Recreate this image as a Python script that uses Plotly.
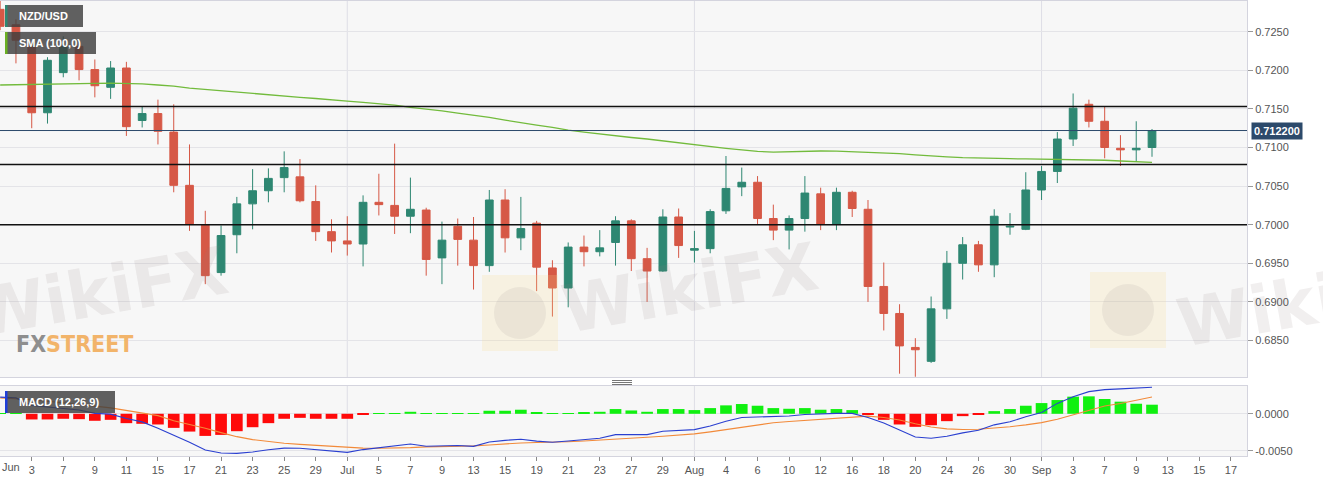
# NZD/USD daily candles with SMA(100) and MACD(12,26,9)

import pandas as pd
import plotly.graph_objects as go

# weekdays on the axis (last candle is Sep 10, axis runs to Sep 17)
dates = pd.bdate_range("2021-06-01", "2021-09-17")

opens = [0.7279, 0.7259, 0.7231, 0.7145, 0.7197, 0.7231, 0.7201, 0.7178, 0.7203, 0.7135,
         0.7144, 0.7120, 0.7051, 0.7000, 0.6938, 0.6987, 0.7027, 0.7044, 0.7061, 0.7062,
         0.7030, 0.6991, 0.6979, 0.6975, 0.7029, 0.7025, 0.7011, 0.7019, 0.6957, 0.6998,
         0.6980, 0.6947, 0.7032, 0.6983, 0.7002, 0.6944, 0.6918, 0.6971, 0.6965, 0.6977,
         0.7005, 0.6956, 0.6940, 0.7010, 0.6967, 0.6969, 0.7018, 0.7049, 0.7055, 0.7008,
         0.6993, 0.7008, 0.7040, 0.7001, 0.7042, 0.7020, 0.6920, 0.6885, 0.6841, 0.6823,
         0.6891, 0.6950, 0.6974, 0.6948, 0.6997, 0.6994, 0.7045, 0.7069, 0.7111, 0.7156,
         0.7134, 0.7099, 0.7097, 0.7100]
highs = [0.7290, 0.7266, 0.7236, 0.7217, 0.7244, 0.7234, 0.7214, 0.7212, 0.7211, 0.7153,
         0.7162, 0.7156, 0.7104, 0.7018, 0.6999, 0.7036, 0.7072, 0.7073, 0.7095, 0.7085,
         0.7051, 0.7007, 0.7011, 0.7038, 0.7066, 0.7105, 0.7061, 0.7022, 0.7004, 0.7008,
         0.7010, 0.7045, 0.7046, 0.7036, 0.7005, 0.6954, 0.6977, 0.6986, 0.6993, 0.7011,
         0.7007, 0.6970, 0.7020, 0.7021, 0.6992, 0.7020, 0.7089, 0.7074, 0.7063, 0.7026,
         0.7012, 0.7063, 0.7048, 0.7048, 0.7044, 0.7032, 0.6951, 0.6897, 0.6853, 0.6907,
         0.6966, 0.6984, 0.6979, 0.7020, 0.7015, 0.7068, 0.7076, 0.7120, 0.7170, 0.7162,
         0.7153, 0.7116, 0.7134, 0.7124]
lows = [0.7252, 0.7209, 0.7125, 0.7131, 0.7191, 0.7187, 0.7165, 0.7163, 0.7115, 0.7126,
        0.7104, 0.7042, 0.6992, 0.6923, 0.6934, 0.6963, 0.6994, 0.7029, 0.7042, 0.7029,
        0.6979, 0.6964, 0.6960, 0.6946, 0.7012, 0.6988, 0.6989, 0.6934, 0.6923, 0.6947,
        0.6916, 0.6939, 0.6964, 0.6967, 0.6914, 0.6881, 0.6893, 0.6946, 0.6959, 0.6947,
        0.6940, 0.6900, 0.6939, 0.6957, 0.6951, 0.6963, 0.7014, 0.7037, 0.7001, 0.6980,
        0.6968, 0.6991, 0.6993, 0.6993, 0.7010, 0.6900, 0.6863, 0.6807, 0.6803, 0.6821,
        0.6878, 0.6929, 0.6939, 0.6932, 0.6987, 0.6993, 0.7032, 0.7054, 0.7102, 0.7126,
        0.7086, 0.7076, 0.7082, 0.7088]
closes = [0.7257, 0.7239, 0.7145, 0.7213, 0.7231, 0.7201, 0.7180, 0.7203, 0.7127, 0.7144,
          0.7121, 0.7051, 0.7001, 0.6934, 0.6986, 0.7027, 0.7044, 0.7060, 0.7074, 0.7031,
          0.6991, 0.6979, 0.6975, 0.7029, 0.7026, 0.7011, 0.7020, 0.6955, 0.6980, 0.6981,
          0.6947, 0.7032, 0.6983, 0.6995, 0.6945, 0.6918, 0.6971, 0.6965, 0.6970, 0.7005,
          0.6956, 0.6940, 0.7010, 0.6973, 0.6969, 0.7017, 0.7047, 0.7055, 0.7008, 0.6993,
          0.7008, 0.7041, 0.7001, 0.7042, 0.7021, 0.6920, 0.6885, 0.6843, 0.6838, 0.6891,
          0.6950, 0.6974, 0.6948, 0.7011, 0.6998, 0.7045, 0.7069, 0.7111, 0.7151, 0.7134,
          0.7100, 0.7097, 0.7099, 0.7122]

sma100 = [0.71810, 0.71815, 0.71820, 0.71825, 0.71828, 0.71830, 0.71832, 0.71833, 0.71832, 0.71825,
          0.71810, 0.71795, 0.71770, 0.71752, 0.71735, 0.71715, 0.71697, 0.71680, 0.71662, 0.71650,
          0.71635, 0.71615, 0.71600, 0.71585, 0.71568, 0.71550, 0.71521, 0.71500, 0.71475, 0.71445,
          0.71420, 0.71390, 0.71355, 0.71320, 0.71290, 0.71260, 0.71225, 0.71200, 0.71175, 0.71150,
          0.71130, 0.71110, 0.71085, 0.71060, 0.71035, 0.71010, 0.70990, 0.70970, 0.70950, 0.70940,
          0.70945, 0.70952, 0.70955, 0.70952, 0.70945, 0.70935, 0.70930, 0.70920, 0.70905, 0.70890,
          0.70880, 0.70870, 0.70862, 0.70858, 0.70855, 0.70852, 0.70850, 0.70847, 0.70845, 0.70840,
          0.70835, 0.70825, 0.70815, 0.70808]

macd = [0.00225, 0.00215, 0.00113, 0.00093, 0.00082, 0.00052, 0.00005, -0.00005, -0.00065, -0.00110,
        -0.00195, -0.00285, -0.00385, -0.00490, -0.00532, -0.00536, -0.00518, -0.00488, -0.00465, -0.00468,
        -0.00488, -0.00508, -0.00523, -0.00485, -0.00460, -0.00430, -0.00410, -0.00440, -0.00436, -0.00430,
        -0.00441, -0.00382, -0.00360, -0.00345, -0.00370, -0.00386, -0.00368, -0.00350, -0.00332, -0.00282,
        -0.00282, -0.00282, -0.00236, -0.00225, -0.00215, -0.00165, -0.00100, -0.00050, -0.00041, -0.00041,
        -0.00030, -0.00009, 0.00003, 0.00005, 0.00005, -0.00050, -0.00125, -0.00223, -0.00314, -0.00332,
        -0.00305, -0.00259, -0.00223, -0.00150, -0.00109, -0.00041, 0.00018, 0.00141, 0.00232, 0.00300,
        0.00327, 0.00338, 0.00350, 0.00359]
signal = [0.00215, 0.00205, 0.00190, 0.00170, 0.00150, 0.00128, 0.00103, 0.00080, 0.00045, 0.00012,
          -0.00025, -0.00095, -0.00140, -0.00195, -0.00255, -0.00310, -0.00350, -0.00380, -0.00400, -0.00415,
          -0.00430, -0.00445, -0.00455, -0.00466, -0.00468, -0.00465, -0.00458, -0.00448, -0.00445, -0.00440,
          -0.00435, -0.00422, -0.00405, -0.00395, -0.00390, -0.00386, -0.00378, -0.00368, -0.00358, -0.00345,
          -0.00330, -0.00318, -0.00305, -0.00289, -0.00272, -0.00245, -0.00212, -0.00178, -0.00145, -0.00122,
          -0.00105, -0.00090, -0.00075, -0.00055, -0.00038, -0.00032, -0.00050, -0.00085, -0.00135, -0.00180,
          -0.00205, -0.00214, -0.00210, -0.00195, -0.00175, -0.00150, -0.00120, -0.00075, -0.00015, 0.00055,
          0.00105, 0.00140, 0.00185, 0.00227]
hist = [0.00010, 0.00010, -0.00077, -0.00077, -0.00068, -0.00073, -0.00095, -0.00082, -0.00127, -0.00136,
        -0.00145, -0.00191, -0.00241, -0.00300, -0.00286, -0.00236, -0.00182, -0.00127, -0.00068, -0.00055,
        -0.00068, -0.00068, -0.00068, -0.00010, 0.00006, 0.00006, 0.00027, 0.00007, 0.00007, 0.00008,
        0.00003, 0.00041, 0.00041, 0.00055, 0.00023, 0.00004, 0.00010, 0.00018, 0.00027, 0.00064,
        0.00045, 0.00027, 0.00064, 0.00064, 0.00050, 0.00077, 0.00114, 0.00132, 0.00109, 0.00077,
        0.00068, 0.00077, 0.00055, 0.00064, 0.00050, -0.00007, -0.00082, -0.00145, -0.00177, -0.00155,
        -0.00100, -0.00032, -0.00014, 0.00036, 0.00064, 0.00109, 0.00145, 0.00186, 0.00232, 0.00236,
        0.00200, 0.00164, 0.00136, 0.00123]

levels = [0.7153, 0.7078, 0.7000]
price_ticks = [0.6850, 0.6900, 0.6950, 0.7000, 0.7050, 0.7100, 0.7150, 0.7200, 0.7250]
macd_ticks = [0.0, -0.005]
macd_tick_text = ["0.0000", "-0.0050"]

x = list(range(len(opens)))
last_close = closes[-1]

# axis labels every second weekday, month name on the first day of a month
month_starts = [i for i in range(len(dates)) if i == 0 or dates[i].month != dates[i - 1].month]
tick_idx = list(range(2, len(dates), 2))
tick_txt = [dates[i].strftime("%b") if i in month_starts else str(dates[i].day) for i in tick_idx]

green = "#2e8772"
red = "#d65846"
grid = "#e4e4e8"
frame = "#d4d4de"

# pixel helpers for the decorations (plot area is 1247 x 455 px, top at y=1)
def px(v):
    return v / 1247.0


def py(v):
    return (456.0 - v) / 455.0


fig = go.Figure()

fig.add_trace(go.Candlestick(
    x=x, open=opens, high=highs, low=lows, close=closes,
    increasing=dict(line=dict(color=green, width=1), fillcolor=green),
    decreasing=dict(line=dict(color=red, width=1), fillcolor=red),
    whiskerwidth=0, hoverinfo="skip", name="NZD/USD",
    xaxis="x", yaxis="y"))

fig.add_trace(go.Scatter(
    x=x, y=sma100, mode="lines", line=dict(color="#72bb3c", width=1.3),
    name="SMA (100,0)", hoverinfo="skip", xaxis="x", yaxis="y"))

fig.add_trace(go.Bar(
    x=x, y=hist, width=0.74,
    marker=dict(color=["#10f010" if h >= 0 else "#ff0a0a" for h in hist], line=dict(width=0)),
    hoverinfo="skip", xaxis="x2", yaxis="y2"))

fig.add_trace(go.Scatter(
    x=x, y=signal, mode="lines", line=dict(color="#f28a3a", width=1.1),
    hoverinfo="skip", xaxis="x2", yaxis="y2"))

fig.add_trace(go.Scatter(
    x=x, y=macd, mode="lines", line=dict(color="#2a3fd0", width=1.1),
    hoverinfo="skip", xaxis="x2", yaxis="y2"))

shapes = []

# month separators in both panels
for m in month_starts[1:]:
    for yr in ["y domain", "y2 domain"]:
        shapes.append(dict(type="line", xref="x", yref=yr, x0=m, x1=m, y0=0, y1=1,
                           line=dict(color="#dedee6", width=1), layer="below"))

# support / resistance levels and last price line
for lv in levels:
    shapes.append(dict(type="line", xref="x domain", yref="y", x0=0, x1=1, y0=lv, y1=lv,
                       line=dict(color="#111111", width=1.5)))
shapes.append(dict(type="line", xref="x domain", yref="y", x0=0, x1=1, y0=last_close, y1=last_close,
                   line=dict(color="#2c4a6b", width=1)))

# watermark logo squares
for x0, y0 in [(482, 275), (1090, 272)]:
    shapes.append(dict(type="rect", xref="paper", yref="paper",
                       x0=px(x0), x1=px(x0 + 76), y0=py(y0 + 76), y1=py(y0),
                       fillcolor="rgba(250,222,140,0.2)", line=dict(width=0)))
    shapes.append(dict(type="circle", xref="paper", yref="paper",
                       x0=px(x0 + 12), x1=px(x0 + 64), y0=py(y0 + 64), y1=py(y0 + 12),
                       fillcolor="rgba(150,140,140,0.12)", line=dict(width=0)))

# legend tags
tags = [(5, 83, 5, 27, green), (5, 96, 32, 54, "#6ab023"), (5, 115, 391, 413, "#1f3fd8")]
for x0, x1, y0, y1, c in tags:
    shapes.append(dict(type="rect", xref="paper", yref="paper", x0=px(x0), x1=px(x1),
                       y0=py(y1), y1=py(y0), fillcolor="rgba(62,62,62,0.82)", line=dict(width=0)))
    shapes.append(dict(type="rect", xref="paper", yref="paper", x0=px(x0), x1=px(x0 + 2.5),
                       y0=py(y1), y1=py(y0), fillcolor=c, line=dict(width=0)))

# panel resize grip
for gy in [380.5, 382.5, 384.5]:
    shapes.append(dict(type="line", xref="paper", yref="paper", x0=px(612), x1=px(632),
                       y0=py(gy), y1=py(gy), line=dict(color="#777777", width=1)))

annotations = []
for txt, y0, y1 in [("NZD/USD", 5, 27), ("SMA (100,0)", 32, 54), ("MACD (12,26,9)", 391, 413)]:
    annotations.append(dict(text="<b>" + txt + "</b>", xref="paper", yref="paper",
                            x=px(17), y=py((y0 + y1) / 2), xanchor="left", yanchor="middle",
                            showarrow=False, font=dict(color="white", size=11, family="Arial, Liberation Sans")))

annotations.append(dict(text="<b>%.6f</b>" % last_close, xref="paper", yref="y",
                        x=px(1251), y=last_close, xanchor="left", yanchor="middle",
                        showarrow=False, bgcolor="#2c4a6b", borderpad=2,
                        font=dict(color="white", size=11, family="Arial, Liberation Sans")))

annotations.append(dict(text="Jun", xref="paper", yref="paper", x=0, y=py(467),
                        xanchor="left", yanchor="middle", showarrow=False,
                        font=dict(color="#555555", size=11, family="Arial, Liberation Sans")))

# watermarks
for cx, cy in [(100, 292), (690, 288), (1305, 302)]:
    annotations.append(dict(text="<b>WikiFX</b>", xref="paper", yref="paper", x=px(cx), y=py(cy),
                            xanchor="center", yanchor="middle", showarrow=False, textangle=-10,
                            font=dict(color="rgba(140,120,120,0.12)", size=66,
                                      family="DejaVu Sans, Arial")))

annotations.append(dict(text="<b><span style='color:#8e8e8e'>FX</span>"
                             "<span style='color:#f2b46a'>STREET</span></b>",
                        xref="paper", yref="paper", x=px(14), y=py(344),
                        xanchor="left", yanchor="middle", showarrow=False,
                        font=dict(size=23, family="Liberation Sans Narrow, DejaVu Sans Condensed, Arial")))

axis_font = dict(color="#555555", size=11, family="Arial, Liberation Sans")

fig.update_layout(
    width=1323, height=481,
    margin=dict(l=0, r=76, t=1, b=25, autoexpand=False),
    paper_bgcolor="white", plot_bgcolor="#f7f7f7",
    showlegend=False,
    shapes=shapes, annotations=annotations,
    xaxis=dict(domain=[0, 1], anchor="y", range=[-0.01, 79.02],
               showticklabels=False, showgrid=False, zeroline=False,
               showline=True, mirror=True, linecolor=frame,
               rangeslider=dict(visible=False)),
    xaxis2=dict(domain=[0, 1], anchor="y2", matches="x", range=[-0.01, 79.02],
                tickvals=tick_idx, ticktext=tick_txt, ticks="outside", ticklen=4,
                tickcolor="#888888", tickfont=axis_font, showgrid=False, zeroline=False,
                showline=True, mirror=True, linecolor=frame),
    yaxis=dict(domain=[0.1736, 1], anchor="x", side="right", range=[0.68027, 0.72898],
               tickvals=price_ticks, tickformat=".4f", ticks="outside", ticklen=5,
               tickcolor="#999999", tickfont=axis_font, gridcolor=grid, zeroline=False,
               showline=True, mirror=True, linecolor=frame),
    yaxis2=dict(domain=[0, 0.1538], anchor="x2", side="right", range=[-0.00572, 0.00376],
                tickvals=macd_ticks, ticktext=macd_tick_text, ticks="outside", ticklen=5,
                tickcolor="#999999", tickfont=axis_font, gridcolor=grid, zeroline=False,
                showline=True, mirror=True, linecolor=frame),
)

# the page body has a default 8px margin; drop it so the figure fills the window
fig.write_html("out.html", config={"displayModeBar": False},
               post_script="document.body.style.margin = '0px';")
